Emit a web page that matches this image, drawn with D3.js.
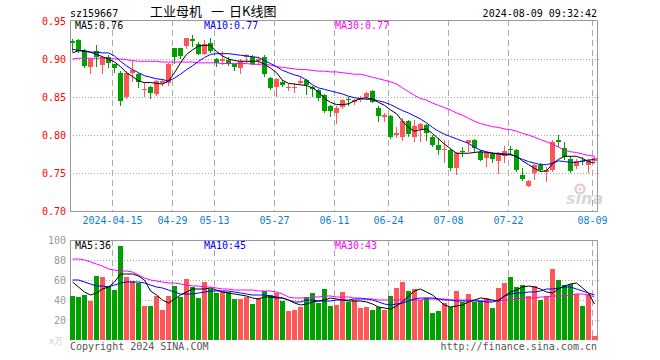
<!DOCTYPE html>
<html>
<head>
<meta charset="utf-8">
<script src="https://cdn.jsdelivr.net/npm/d3@7"></script>
<style>
body{margin:0;background:#fff;}
svg text{font-family:"DejaVu Sans Mono",monospace;font-size:10px;}
</style>
</head>
<body>
<div id="svg"></div>
<script>
// trading days 2024-04-02 .. 2024-08-09
var dates = ["04-02","04-03","04-08","04-09","04-10","04-11","04-12","04-15","04-16","04-17",
  "04-18","04-19","04-22","04-23","04-24","04-25","04-26","04-29","04-30","05-06",
  "05-07","05-08","05-09","05-10","05-13","05-14","05-15","05-16","05-17","05-20",
  "05-21","05-22","05-23","05-24","05-27","05-28","05-29","05-30","05-31","06-03",
  "06-04","06-05","06-06","06-07","06-11","06-12","06-13","06-14","06-17","06-18",
  "06-19","06-20","06-21","06-24","06-25","06-26","06-27","06-28","07-01","07-02",
  "07-03","07-04","07-05","07-08","07-09","07-10","07-11","07-12","07-15","07-16",
  "07-17","07-18","07-19","07-22","07-23","07-24","07-25","07-26","07-29","07-30",
  "07-31","08-01","08-02","08-05","08-06","08-07","08-08","08-09"];

var open = [.924,.925,.911,.890,.910,.891,.902,.893,.882,.850,
  .881,.880,.860,.863,.854,.868,.869,.914,.914,.916,
  .926,.920,.907,.921,.900,.897,.899,.893,.888,.903,
  .903,.897,.903,.875,.863,.870,.862,.862,.869,.873,
  .863,.859,.853,.838,.830,.837,.847,.844,.847,.850,
  .858,.836,.824,.825,.801,.798,.818,.797,.809,.813,
  .798,.787,.780,.780,.756,.779,.789,.793,.778,.770,
  .775,.765,.773,.782,.780,.747,.734,.749,.761,.752,
  .754,.793,.783,.768,.760,.766,.761,.766];
var high = [.926,.926,.913,.901,.919,.903,.905,.893,.884,.884,
  .898,.882,.869,.864,.873,.874,.895,.915,.915,.928,
  .932,.922,.925,.927,.901,.910,.903,.894,.900,.907,
  .905,.902,.905,.876,.875,.872,.867,.868,.876,.874,
  .865,.860,.854,.839,.838,.848,.850,.848,.851,.857,
  .859,.838,.829,.826,.811,.822,.820,.820,.816,.815,
  .800,.796,.793,.781,.777,.784,.794,.795,.780,.777,
  .778,.778,.786,.785,.781,.756,.741,.762,.763,.758,
  .794,.800,.791,.772,.768,.771,.768,.772];
var low = [.911,.909,.890,.881,.891,.882,.890,.883,.840,.849,
  .871,.863,.851,.849,.853,.866,.866,.895,.901,.915,
  .917,.906,.906,.909,.891,.894,.892,.886,.882,.896,
  .893,.893,.878,.860,.851,.864,.859,.857,.867,.854,
  .851,.846,.830,.825,.816,.835,.840,.841,.845,.848,
  .843,.818,.818,.796,.797,.793,.799,.792,.792,.794,
  .785,.775,.765,.754,.749,.773,.779,.778,.767,.759,
  .764,.750,.764,.775,.752,.741,.733,.742,.752,.739,
  .752,.785,.769,.751,.756,.762,.751,.764];
var close = [.921,.911,.891,.900,.902,.902,.894,.888,.845,.882,
  .885,.869,.861,.855,.871,.871,.894,.902,.903,.927,
  .923,.907,.920,.911,.895,.900,.894,.889,.897,.905,
  .894,.900,.880,.862,.874,.866,.863,.863,.871,.866,
  .861,.848,.832,.831,.836,.846,.846,.846,.849,.855,
  .844,.825,.826,.798,.803,.819,.801,.812,.815,.802,
  .787,.781,.781,.756,.776,.778,.793,.782,.768,.776,
  .769,.776,.779,.781,.754,.742,.740,.760,.754,.754,
  .791,.790,.771,.752,.766,.765,.767,.770];

var ma5 = [.908,.911,.911,.909,.906,.903,.900,.896,.890,.882,
  .877,.871,.869,.869,.868,.867,.871,.882,.895,.906,
  .912,.917,.918,.918,.910,.904,.900,.898,.897,.897,
  .897,.897,.893,.888,.882,.872,.868,.867,.866,.865,
  .862,.857,.848,.843,.840,.840,.841,.845,.848,.849,
  .847,.843,.839,.833,.828,.818,.810,.805,.807,.808,
  .802,.795,.788,.782,.776,.776,.776,.777,.778,.777,
  .776,.775,.774,.774,.772,.766,.761,.756,.752,.753,
  .762,.768,.772,.772,.772,.769,.765,.763];
var ma10 = [.913,.911,.910,.909,.909,.908,.908,.904,.897,.891,
  .886,.882,.878,.876,.874,.873,.871,.875,.880,.886,
  .891,.897,.902,.906,.907,.907,.907,.906,.905,.904,
  .903,.902,.898,.894,.890,.885,.882,.879,.877,.872,
  .866,.862,.860,.858,.856,.854,.851,.849,.848,.847,
  .847,.845,.843,.840,.836,.832,.829,.825,.821,.816,
  .810,.805,.801,.798,.795,.792,.789,.784,.780,.778,
  .776,.776,.775,.775,.771,.768,.765,.763,.761,.761,
  .763,.766,.765,.764,.764,.766,.767,.768];
var ma30 = [.900,.901,.901,.901,.901,.901,.901,.900,.900,.899,
  .898,.897,.897,.897,.897,.896,.896,.896,.896,.896,
  .896,.895,.895,.895,.895,.894,.894,.894,.894,.894,
  .893,.893,.893,.892,.890,.889,.888,.887,.886,.886,
  .885,.884,.884,.883,.883,.882,.881,.880,.880,.878,
  .876,.874,.872,.870,.867,.862,.857,.852,.848,.846,
  .842,.839,.836,.833,.829,.826,.822,.818,.815,.813,
  .811,.810,.808,.807,.805,.802,.800,.797,.794,.791,
  .788,.784,.780,.778,.777,.775,.773,.772];

// volume, in 万
var vol = [44,43,45,39,64,63,54,50,94,63,
  59,57,34,34,44,30,44,54,43,61,
  53,42,58,51,47,49,48,41,41,43,
  36,42,49,45,47,39,29,30,33,43,
  47,37,51,34,35,48,38,40,32,33,
  30,33,30,44,52,58,49,51,40,42,
  27,29,37,33,49,38,46,38,39,42,
  32,52,57,63,53,55,44,54,40,44,
  71,60,55,56,46,34,46,4];
var vma5 = [58,53,48,45,47,51,53,58,66,66,
  66,64,60,49,45,40,37,41,45,48,
  51,51,51,52,50,48,47,46,45,44,
  42,41,43,43,42,42,40,37,35,36,
  38,39,40,42,41,40,39,39,39,38,
  36,33,32,31,34,38,44,49,51,48,
  45,40,35,33,34,35,38,40,42,41,
  40,39,44,48,50,53,54,53,51,48,
  47,51,54,56,57,52,47,36];
var vma10 = [60,60,58,56,54,54,53,55,57,58,
  58,58,57,55,53,52,50,48,46,46,
  46,47,48,49,49,49,49,48,47,46,
  45,45,45,44,43,42,40,38,38,40,
  40,39,39,39,40,40,40,41,41,41,
  40,38,36,35,36,37,39,41,42,42,
  42,41,40,40,39,39,39,39,39,38,
  38,40,44,46,47,47,48,48,49,51,
  51,52,53,53,51,49,47,45];
var vma30 = [81,81,80,78,76,74,71,70,69,69,
  68,65,62,60,59,58,57,57,56,55,
  54,54,53,53,52,51,51,50,50,50,
  50,49,49,49,48,46,43,42,42,42,
  43,43,44,44,43,43,43,42,42,41,
  41,40,40,40,40,40,40,40,40,41,
  41,41,41,40,40,40,40,40,39,39,
  39,39,40,40,41,42,42,42,43,43,
  44,44,44,45,46,46,45,43];

var tickDates = ["04-15","04-29","05-13","05-27","06-11","06-24","07-08","07-22","08-09"];
var tickLabels = ["2024-04-15","04-29","05-13","05-27","06-11","06-24","07-08","07-22","08-09"];
var priceTicks = [0.70,0.75,0.80,0.85,0.90,0.95];
var priceGrid = [0.75,0.80,0.85,0.90];
var volTicks = [20,40,60,80,100];
var volGrid = [20,40,60,80];

var RED = "#ff5757", GREEN = "#00a000", GRID = "#aaa", BORDER = "#999";

var svg = d3.select('#svg').append('svg')
  .attr('width', 660).attr('height', 360);

var x = d3.scaleBand().domain(dates).range([70, 598]);
var y = d3.scaleLinear().domain([0.70, 0.95]).range([211, 21]);
var yv = d3.scaleLinear().domain([0, 100]).range([340, 240]);
var cx = function(d){ return x(d) + 2.5; };
var colorOf = function(i){ return close[i] >= open[i] ? RED : GREEN; };

// sina watermark
var wm = svg.append('g').attr('opacity', 0.9);
wm.append('circle').attr('cx', 580).attr('cy', 189).attr('r', 4.5)
  .attr('fill', 'none').attr('stroke', '#f2b8b8').attr('stroke-width', 2);
wm.append('circle').attr('cx', 580).attr('cy', 189).attr('r', 1.5).attr('fill', '#e8c8c8');
wm.append('text').attr('x', 566).attr('y', 204).text('sina')
  .style('font-family', '"DejaVu Sans",sans-serif').style('font-size', '16px')
  .style('font-weight', 'bold').style('font-style', 'italic').attr('fill', '#d4d4d4');

// grid lines
function hgrid(vals, scale){
  svg.append('g').selectAll('line').data(vals).enter().append('line')
    .attr('x1', 70).attr('x2', 600)
    .attr('y1', function(d){ return Math.round(scale(d)) + 0.5; })
    .attr('y2', function(d){ return Math.round(scale(d)) + 0.5; })
    .attr('stroke', GRID).attr('stroke-dasharray', '1,2');
}
function vgrid(top, bottom){
  svg.append('g').selectAll('line').data(tickDates).enter().append('line')
    .attr('x1', function(d){ return x(d) + 0.5; })
    .attr('x2', function(d){ return x(d) + 0.5; })
    .attr('y1', top).attr('y2', bottom)
    .attr('stroke', GRID).attr('stroke-dasharray', '6,4');
}
hgrid(priceGrid, y);
hgrid(volGrid, yv);
vgrid(20, 211);
vgrid(240, 340);

// panel borders
svg.append('path').attr('fill', 'none').attr('stroke', BORDER)
  .attr('d', 'M70.5,211.5V20.5H597.5V211.5H70.5');
svg.append('path').attr('fill', 'none').attr('stroke', BORDER)
  .attr('d', 'M70.5,341V240.5H597.5V341');

// candles
var candles = svg.append('g');
candles.selectAll('line').data(dates).enter().append('line')
  .attr('x1', cx).attr('x2', cx)
  .attr('y1', function(d, i){ return Math.round(y(high[i])); })
  .attr('y2', function(d, i){ return Math.round(y(low[i])) + 1; })
  .attr('stroke', function(d, i){ return colorOf(i); });
candles.selectAll('rect').data(dates).enter().append('rect')
  .attr('x', function(d){ return x(d); })
  .attr('width', 5)
  .attr('y', function(d, i){ return Math.round(y(Math.max(open[i], close[i]))); })
  .attr('height', function(d, i){
    return Math.max(1, Math.round(Math.abs(y(open[i]) - y(close[i]))));
  })
  .attr('fill', function(d, i){ return colorOf(i); });

// volume bars
svg.append('g').selectAll('rect').data(vol).enter().append('rect')
  .attr('x', function(d, i){ return x(dates[i]); })
  .attr('width', 5)
  .attr('y', function(d){ return Math.round(yv(d)); })
  .attr('height', function(d){ return 340 - Math.round(yv(d)); })
  .attr('fill', function(d, i){ return colorOf(i); });

// moving averages
function maLine(vals, scale, color){
  var line = d3.line()
    .x(function(d, i){ return cx(dates[i]); })
    .y(function(d){ return scale(d); });
  svg.append('path').datum(vals).attr('d', line)
    .attr('fill', 'none').attr('stroke', color).attr('stroke-width', 1);
}
maLine(ma30, y, '#f0f');
maLine(ma10, y, '#00f');
maLine(ma5, y, '#000');
maLine(vma30, yv, '#f0f');
maLine(vma10, yv, '#00f');
maLine(vma5, yv, '#000');

// axes
var ay = svg.append('g').attr('transform', 'translate(66,0)')
  .call(d3.axisLeft(y).tickValues(priceTicks).tickSize(0).tickPadding(0)
    .tickFormat(d3.format('.2f')));
ay.select('.domain').remove();
ay.selectAll('text').attr('fill', '#f00').attr('dy', '0.35em')
  .style('font-family', '"DejaVu Sans Mono",monospace').style('font-size', '10px');

var av = svg.append('g').attr('transform', 'translate(66,0)')
  .call(d3.axisLeft(yv).tickValues(volTicks).tickSize(0).tickPadding(0));
av.select('.domain').remove();
av.selectAll('text').attr('fill', '#999').attr('dy', '0.35em')
  .style('font-family', '"DejaVu Sans Mono",monospace').style('font-size', '10px');

var ax = svg.append('g').attr('transform', 'translate(-2.5,212)')
  .call(d3.axisBottom(x).tickValues(tickDates).tickSize(0).tickPadding(5)
    .tickFormat(function(d, i){ return tickLabels[i]; }));
ax.select('.domain').remove();
ax.selectAll('text').attr('fill', '#0a7fd4')
  .style('font-family', '"DejaVu Sans Mono",monospace').style('font-size', '10px');

// titles and legends
function label(px, py, txt, color, anchor){
  return svg.append('text').attr('x', px).attr('y', py).text(txt)
    .attr('fill', color || '#000').attr('text-anchor', anchor || 'start');
}
label(70, 17, 'sz159667');
label(597, 17, '2024-08-09 09:32:42', '#000', 'end');
var cjk = '"Noto Sans CJK SC",sans-serif';
label(150, 16, '工业母机').style('font-family', cjk).style('font-size', '13px');
label(211, 16, '一').style('font-family', cjk).style('font-size', '13px');
label(229, 16, '日K线图').style('font-family', cjk).style('font-size', '13px');

label(75, 29, 'MA5:' + ma5[ma5.length - 1].toFixed(2));
label(204, 29, 'MA10:' + ma10[ma10.length - 1].toFixed(2), '#00f');
label(335, 29, 'MA30:' + ma30[ma30.length - 1].toFixed(2), '#f0f');

label(75, 249, 'MA5:' + vma5[vma5.length - 1]);
label(204, 249, 'MA10:' + vma10[vma10.length - 1], '#00f');
label(335, 249, 'MA30:' + vma30[vma30.length - 1], '#f0f');

label(49, 344, 'x万', '#ccc').style('font-size', '9px');
label(70, 350, 'Copyright 2024 SINA.COM', '#555');
label(597, 350, 'http://finance.sina.com.cn', '#555', 'end');
</script>
</body>
</html>
